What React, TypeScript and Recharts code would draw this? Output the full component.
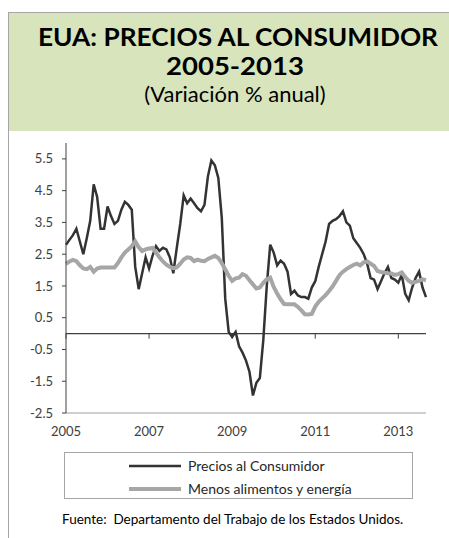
import { LineChart, Line, XAxis, YAxis, ReferenceLine, Legend } from "recharts";

// meses ene-2005 .. sep-2013
const anios = [2005, 2006, 2007, 2008, 2009, 2010, 2011, 2012, 2013];
const meses: string[] = [];
anios.forEach((a) => {
  const n = a === 2013 ? 9 : 12;
  for (let m = 1; m <= n; m++) meses.push(`${a}-${m < 10 ? "0" + m : m}`);
});

const precios = [
  2.8, 2.95, 3.1, 3.3, 2.9, 2.5, 3.0, 3.55, 4.7, 4.3, 3.3, 3.3,
  4.0, 3.7, 3.45, 3.55, 3.9, 4.15, 4.05, 3.9, 2.1, 1.4, 1.9, 2.4,
  2.05, 2.45, 2.75, 2.6, 2.7, 2.65, 2.4, 1.9, 2.7, 3.45, 4.35, 4.1,
  4.25, 4.1, 3.95, 3.85, 4.05, 4.95, 5.45, 5.3, 4.9, 3.65, 1.1, 0.05,
  -0.1, 0.05, -0.4, -0.6, -0.85, -1.2, -1.95, -1.55, -1.4, -0.2, 1.5, 2.8,
  2.55, 2.15, 2.3, 2.2, 1.95, 1.25, 1.35, 1.2, 1.15, 1.15, 1.1, 1.45,
  1.65, 2.1, 2.5, 2.9, 3.45, 3.55, 3.6, 3.7, 3.85, 3.5, 3.4, 3.0,
  2.85, 2.7, 2.5, 2.2, 1.75, 1.7, 1.4, 1.65, 1.9, 2.1, 1.75, 1.7,
  1.6, 1.85, 1.25, 1.05, 1.45, 1.75, 1.95, 1.45, 1.15,
];

const subyacente = [
  2.2, 2.27, 2.32, 2.28, 2.15, 2.05, 2.03, 2.1, 1.95, 2.05, 2.08, 2.08,
  2.08, 2.08, 2.08, 2.22, 2.4, 2.55, 2.65, 2.75, 2.9, 2.72, 2.6, 2.65,
  2.68, 2.7, 2.55, 2.4, 2.27, 2.17, 2.1, 2.06, 2.08, 2.2, 2.33, 2.4,
  2.38, 2.28, 2.33, 2.29, 2.28, 2.35, 2.4, 2.45, 2.38, 2.22, 2.02, 1.82,
  1.66, 1.74, 1.76, 1.87, 1.82, 1.68, 1.55, 1.42, 1.45, 1.6, 1.71, 1.76,
  1.47, 1.26, 1.08, 0.93, 0.92, 0.92, 0.92, 0.84, 0.73, 0.61, 0.6, 0.62,
  0.85, 1.0, 1.11, 1.21, 1.34, 1.48, 1.66, 1.84, 1.95, 2.03, 2.1, 2.16,
  2.2, 2.15, 2.24, 2.27, 2.2, 2.13, 1.97, 1.94, 1.92, 1.9, 1.89, 1.85,
  1.87, 1.92, 1.78, 1.66, 1.6, 1.63, 1.66, 1.71, 1.68,
];

const ticksX = ["2005-01", "2007-01", "2009-01", "2011-01", "2013-01"];
const ticksY = [-2.5, -1.5, -0.5, 0.5, 1.5, 2.5, 3.5, 4.5, 5.5];

const data = meses.map((mes, i) => ({
  mes,
  precios: precios[i],
  subyacente: subyacente[i],
}));

const font = "Lato, 'Open Sans', sans-serif";
const tickStyle = { fontFamily: font, fontSize: 13, fill: "#404040" };

const renderLegend = (props: any) => {
  // primero la serie general, luego la subyacente
  const items = [...(props.payload || [])].sort((a: any, b: any) =>
    a.dataKey === "precios" ? -1 : b.dataKey === "precios" ? 1 : 0
  );
  return (
    <div style={{ paddingTop: 1 }}>
      {items.map((entry: any) => (
        <div
          key={entry.value}
          style={{ display: "flex", alignItems: "center", height: 23, paddingLeft: 64 }}
        >
          <svg width={52} height={8}>
            <line
              x1={0}
              x2={52}
              y1={4}
              y2={4}
              stroke={entry.color}
              strokeWidth={entry.dataKey === "precios" ? 2.5 : 4}
            />
          </svg>
          <span
            style={{ marginLeft: 7, fontFamily: font, fontSize: 14, color: "#262626" }}
          >
            {entry.value}
          </span>
        </div>
      ))}
    </div>
  );
};

export default function App() {
  return (
    <div
      style={{
        position: "absolute",
        left: 0,
        top: 0,
        width: 449,
        height: 538,
        background: "#fff",
        overflow: "hidden",
      }}
    >
      {/* titulo */}
      <div
        style={{
          position: "absolute",
          left: 8,
          top: 12,
          width: 470,
          height: 119,
          background: "#d8e4bc",
          borderTop: "1px solid #a6a6a6",
          borderLeft: "1px solid #a6a6a6",
          boxSizing: "border-box",
        }}
      />
      <svg
        width={449}
        height={131}
        style={{ position: "absolute", left: 0, top: 0 }}
      >
        <text
          x={238}
          y={46}
          textAnchor="middle"
          fontFamily={font}
          fontWeight={700}
          fontSize={25}
          textLength={400}
          lengthAdjust="spacingAndGlyphs"
          fill="#000"
        >
          EUA: PRECIOS AL CONSUMIDOR
        </text>
        <text
          x={235}
          y={75}
          textAnchor="middle"
          fontFamily={font}
          fontWeight={700}
          fontSize={24}
          textLength={138}
          lengthAdjust="spacingAndGlyphs"
          fill="#000"
        >
          2005-2013
        </text>
        <text
          x={235}
          y={102}
          textAnchor="middle"
          fontFamily={font}
          fontSize={22}
          fill="#000"
        >
          (Variación % anual)
        </text>
      </svg>
      {/* borde izquierdo del area */}
      <div
        style={{
          position: "absolute",
          left: 8,
          top: 131,
          width: 1,
          height: 407,
          background: "#a6a6a6",
        }}
      />
      <div style={{ position: "absolute", left: 8, top: 131 }}>
        <LineChart
          width={441}
          height={407}
          data={data}
          margin={{ top: 12, right: 23, bottom: 100, left: 0 }}
        >
          <XAxis
            dataKey="mes"
            ticks={ticksX}
            interval={0}
            tickFormatter={(v: string) => v.slice(0, 4)}
            tick={tickStyle}
            tickLine={false}
            tickSize={0}
            tickMargin={14}
            height={25}
            axisLine={{ stroke: "#a0a0a0" }}
          />
          <XAxis
            xAxisId="top"
            orientation="top"
            dataKey="mes"
            tick={false}
            tickLine={false}
            height={0}
            axisLine={{ stroke: "#a0a0a0" }}
          />
          <YAxis
            domain={[-2.5, 6]}
            ticks={ticksY}
            interval={0}
            tickFormatter={(v: number) => v.toFixed(1)}
            tick={tickStyle}
            tickSize={4}
            tickMargin={9}
            width={58}
            axisLine={{ stroke: "#404040" }}
            tickLine={{ stroke: "#404040" }}
          />
          <YAxis
            yAxisId="right"
            orientation="right"
            domain={[-2.5, 6]}
            tick={false}
            tickLine={false}
            width={0}
            axisLine={{ stroke: "#a0a0a0" }}
          />
          <ReferenceLine y={0} stroke="#404040" strokeWidth={1.2} />
          {ticksX.map((m) => (
            <ReferenceLine
              key={m}
              segment={[
                { x: m, y: 0 },
                { x: m, y: -0.16 },
              ]}
              stroke="#404040"
            />
          ))}
          <Line
            type="linear"
            dataKey="precios"
            name="Precios al Consumidor"
            stroke="#333333"
            strokeWidth={2.5}
            dot={false}
            isAnimationActive={false}
          />
          <Line
            type="linear"
            dataKey="subyacente"
            name="Menos alimentos y energía"
            stroke="#a6a6a6"
            strokeWidth={4}
            dot={false}
            isAnimationActive={false}
          />
          <Legend
            layout="horizontal"
            verticalAlign="middle"
            align="center"
            content={renderLegend}
            wrapperStyle={{
              left: 56,
              top: 321,
              width: 349,
              height: 47,
              border: "1px solid #a6a6a6",
              boxSizing: "border-box",
              background: "#fff",
            }}
          />
        </LineChart>
      </div>
      <div
        style={{
          position: "absolute",
          left: 62,
          top: 511,
          fontFamily: font,
          fontSize: 13.5,
          color: "#000",
          whiteSpace: "pre",
        }}
      >
        {"Fuente:  Departamento del Trabajo de los Estados Unidos."}
      </div>
    </div>
  );
}
